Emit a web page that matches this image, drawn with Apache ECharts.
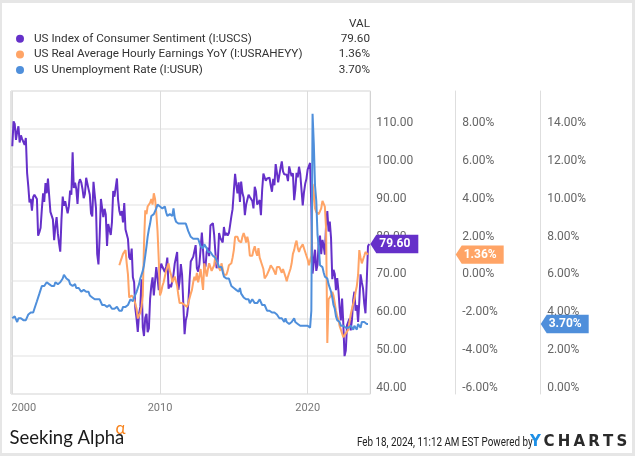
<!DOCTYPE html>
<html><head><meta charset="utf-8">
<script src="https://cdn.jsdelivr.net/npm/echarts@6/dist/echarts.min.js"></script>
<style>
html,body{margin:0;padding:0;background:#fff}
#wrap{position:relative;width:635px;height:456px}
#c{width:635px;height:456px}
#frame{position:absolute;left:0;top:0;width:635px;height:456px;box-sizing:border-box;border:solid #e6e6e6;border-width:3px 3px 3px 2px;pointer-events:none}
</style>
</head><body><div id="wrap"><div id="c"></div><div id="frame"></div></div>
<script>
// ---- DATA (monthly, month-end dates) ----
const seriesNames = ['US Index of Consumer Sentiment (I:USCS)', 'US Real Average Hourly Earnings YoY (I:USRAHEYY)', 'US Unemployment Rate (I:USUR)'];
const sentimentStart = [1999, 12];
const sentiment = [105.4,
 112.0,111.3,107.1,109.2,110.7,106.4,108.3,107.3,106.8,105.8,107.6,98.4,
 94.7,90.6,91.5,88.4,92.0,92.6,92.4,91.5,81.8,82.7,83.9,88.8,
 93.0,90.7,95.7,93.0,96.9,92.4,88.1,87.6,86.1,80.6,84.2,86.7,
 82.4,79.9,77.6,86.0,92.1,89.7,90.9,89.3,87.7,89.6,93.7,92.6,
 103.8,94.4,95.8,94.2,90.2,95.6,96.7,95.9,94.2,91.7,92.8,97.1,
 95.5,94.1,92.6,87.7,86.9,96.0,96.5,89.1,76.9,74.2,81.6,91.5,
 91.2,86.7,88.9,87.4,79.1,84.9,84.7,82.0,85.4,93.6,92.1,91.7,
 96.9,91.3,88.4,87.1,88.3,85.3,90.4,83.4,83.4,80.9,76.1,75.5,
 78.4,70.8,69.5,62.6,59.8,56.4,61.2,63.0,70.3,57.6,55.3,60.1,
 61.2,56.3,57.3,65.1,68.7,70.8,66.0,65.7,73.5,70.6,67.4,72.5,
 74.4,73.6,73.6,72.2,73.6,76.0,67.8,68.9,68.2,67.7,71.6,74.5,
 74.2,77.5,67.5,69.8,74.3,71.5,63.7,55.8,59.5,60.8,63.7,69.9,
 75.0,75.3,76.2,76.4,79.3,73.2,72.3,74.3,78.3,82.6,82.7,72.9,
 73.8,77.6,78.6,76.4,84.5,84.1,85.1,82.1,77.5,73.2,75.1,82.5,
 81.2,81.6,80.0,84.1,81.9,82.5,81.8,82.5,84.6,86.9,88.8,93.6,
 98.1,95.4,93.0,95.9,90.7,96.1,93.1,91.9,87.2,90.0,91.3,92.6,
 92.0,91.7,91.0,89.0,94.7,93.5,90.0,89.8,91.2,87.2,93.8,98.2,
 98.5,96.3,96.9,97.0,97.1,95.1,93.4,96.8,95.1,100.7,98.5,95.9,
 95.7,99.7,101.4,98.8,98.0,98.2,97.9,96.2,100.1,98.6,97.5,98.3,
 91.2,93.8,98.4,97.2,100.0,98.2,98.4,89.8,93.2,95.5,96.8,99.3,
 99.8,101.0,89.1,71.8,72.3,78.1,72.5,74.1,80.4,81.8,76.9,80.7,
 79.0,76.8,84.9,88.3,82.9,85.5,81.2,70.3,72.8,71.7,67.4,70.6,
 67.2,62.8,59.4,65.2,58.4,50.0,51.5,58.2,58.6,59.9,56.8,59.7,
 64.9,67.0,62.0,63.5,59.0,64.4,71.6,69.5,67.9,63.8,61.3,69.7,
 79.0,79.6];
const earningsStart = [2007, 3];
const earnings = [0.8,1.0,1.2,1.4,1.5,1.6,0.9,0.3,-0.9,-0.9,
 -0.8,-0.9,-1.0,-1.0,-1.5,-2.0,-2.1,-1.7,-1.4,-0.8,1.9,3.7,
 3.5,3.9,3.8,4.1,4.3,4.0,4.6,4.3,3.6,2.6,1.1,-0.8,
 -0.6,-0.3,-0.1,0.2,0.5,0.7,0.9,0.5,0.3,-0.1,0.0,0.2,
 0.2,-0.3,-0.8,-1.2,-1.3,-1.2,-1.3,-1.3,-1.4,-1.4,-1.2,-1.2,
 -0.7,-0.5,-0.1,0.2,0.0,0.4,-0.1,0.2,0.6,0.6,-0.5,0.9,
 0.9,0.2,0.6,0.9,0.8,0.5,0.4,0.8,1.3,1.0,0.8,0.7,
 0.5,0.9,0.6,0.3,0.2,0.3,0.5,0.8,0.7,0.9,1.2,1.6,
 2.3,2.2,2.3,2.1,2.2,2.0,2.3,2.5,2.3,2.0,2.3,2.0,
 1.3,1.4,1.3,1.6,1.8,1.5,1.3,1.7,1.2,1.0,1.1,0.6,
 0.1,0.1,0.3,0.3,0.6,0.8,0.9,0.6,0.5,0.3,0.7,0.6,
 0.7,0.6,0.4,0.6,0.5,0.2,-0.05,0.2,0.4,0.6,0.9,1.4,
 1.6,1.9,2.1,1.7,1.5,1.7,1.6,1.9,1.8,1.5,1.3,1.1,
 0.8,0.9,1.3,5.1,4.6,3.8,3.6,3.6,3.5,3.6,3.8,4.2,
 4.1,3.9,2.7,-3.3,-1.0,-0.9,-0.8,-0.6,-0.8,-1.2,-1.6,-1.9,
 -2.1,-2.4,-2.6,-2.7,-3.0,-3.1,-2.8,-2.7,-2.6,-2.2,-1.8,-1.5,
 -1.4,-1.0,-0.6,-0.3,0.3,1.6,1.2,0.9,1.0,1.3,1.5,1.6,
 1.36];
const unemploymentStart = [1999, 12];
const unemployment = [4.0,
 4.0,4.1,4.0,3.8,4.0,4.0,4.0,4.1,3.9,3.9,3.9,3.9,
 4.2,4.2,4.3,4.4,4.3,4.5,4.6,4.9,5.0,5.3,5.5,5.7,
 5.7,5.7,5.7,5.9,5.8,5.8,5.8,5.7,5.7,5.7,5.9,6.0,
 5.8,5.9,5.9,6.0,6.1,6.3,6.2,6.1,6.1,6.0,5.8,5.7,
 5.7,5.6,5.8,5.6,5.6,5.6,5.5,5.4,5.4,5.5,5.4,5.4,
 5.3,5.4,5.2,5.2,5.1,5.0,5.0,4.9,5.0,5.0,5.0,4.9,
 4.7,4.8,4.7,4.7,4.6,4.6,4.7,4.7,4.5,4.4,4.5,4.4,
 4.6,4.5,4.4,4.5,4.4,4.6,4.7,4.6,4.7,4.7,4.7,5.0,
 5.0,4.9,5.1,5.0,5.4,5.6,5.8,6.1,6.1,6.5,6.8,7.3,
 7.8,8.3,8.7,9.0,9.4,9.5,9.5,9.6,9.8,10.0,9.9,9.9,
 9.8,9.8,9.9,9.9,9.6,9.4,9.4,9.5,9.5,9.4,9.8,9.3,
 9.1,9.0,9.0,9.1,9.0,9.1,9.0,9.0,9.0,8.8,8.6,8.5,
 8.3,8.3,8.2,8.2,8.2,8.2,8.2,8.1,7.8,7.8,7.7,7.9,
 8.0,7.7,7.5,7.6,7.5,7.5,7.3,7.2,7.2,7.2,6.9,6.7,
 6.6,6.7,6.7,6.2,6.3,6.1,6.2,6.1,5.9,5.7,5.8,5.6,
 5.7,5.5,5.4,5.4,5.6,5.3,5.2,5.1,5.0,5.0,5.1,5.0,
 4.8,4.9,5.0,5.1,4.8,4.9,4.8,4.9,5.0,4.9,4.7,4.7,
 4.7,4.6,4.4,4.4,4.4,4.3,4.3,4.4,4.3,4.2,4.2,4.1,
 4.0,4.1,4.0,4.0,3.8,4.0,3.8,3.8,3.7,3.8,3.8,3.9,
 4.0,3.8,3.8,3.7,3.6,3.6,3.7,3.6,3.5,3.6,3.6,3.6,
 3.5,3.5,4.4,14.8,13.2,11.0,10.2,8.4,7.8,6.8,6.7,6.7,
 6.4,6.2,6.1,6.1,5.8,5.9,5.4,5.1,4.7,4.5,4.1,3.9,
 4.0,3.8,3.6,3.7,3.6,3.6,3.5,3.6,3.5,3.6,3.6,3.5,
 3.4,3.6,3.5,3.4,3.7,3.6,3.5,3.8,3.8,3.8,3.7,3.7,
 3.7];
const xTickYears = [2000, 2010, 2020];
const xRange = ['1999-11-29', '2024-03-28'];
const leftAxis = {min: 40, max: 120, interval: 10};
const midAxis = {min: -6, max: 10, interval: 2};
const rightAxis = {min: 0, max: 16, interval: 2};
const colors = ['#6530c9', '#ffa466', '#4f8fdb'];
const footerDate = 'Feb 18, 2024, 11:12 AM EST Powered by';

// ---- build ----
function monthEnd(y, m) { return Date.UTC(y, m, 0); } // m is 1-based -> last day of month m
function pairs(start, vals) {
  return vals.map((v, i) => [monthEnd(start[0], start[1] + i), v]);
}
const lastVals = [
  sentiment[sentiment.length - 1].toFixed(2),
  earnings[earnings.length - 1].toFixed(2) + '%',
  unemployment[unemployment.length - 1].toFixed(2) + '%'
];
const xTickValues = xTickYears.map(y => Date.UTC(y, 0, 1));
const FONT = 'Roboto';
const LEG_FS = 11.7, LEG_LH = 15.65;
const axisLabelBase = {color: '#666', fontSize: 12, fontFamily: FONT, verticalAlign: 'bottom', showMaxLabel: false, showMinLabel: true};
const AX_OFF = [0, 85.4, 170.4];

const chart = echarts.init(document.getElementById('c'), null, {renderer: 'canvas'});
const option = {
  animation: false,
  backgroundColor: '#fff',
  color: colors,
  title: {text: 'VAL', right: 265, top: 17.5, padding: 0,
    textStyle: {fontSize: LEG_FS, lineHeight: 13, fontWeight: 'normal', color: '#333', fontFamily: FONT}},
  legend: {
    orient: 'vertical', left: 16, top: 30.9, padding: 0, itemGap: 0,
    icon: 'circle', itemWidth: 8, itemHeight: 8, selectedMode: false,
    data: seriesNames,
    formatter: name => '{n|' + name + '}{v|' + lastVals[seriesNames.indexOf(name)] + '}',
    textStyle: {
      fontFamily: FONT, fontSize: LEG_FS, lineHeight: LEG_LH, height: LEG_LH, color: '#333',
      rich: {
        n: {width: 291, height: LEG_LH, padding: [0, 0, 0, 5], fontSize: LEG_FS, lineHeight: LEG_LH, color: '#333', fontFamily: FONT},
        v: {width: 45, height: LEG_LH, align: 'right', fontSize: LEG_FS, lineHeight: LEG_LH, color: '#333', fontFamily: FONT}
      }
    }
  },
  grid: {left: 11, right: 264.7, top: 91, bottom: 62, show: true, borderColor: '#c8c8c8', borderWidth: 1,
    containLabel: false},
  xAxis: {
    type: 'value', min: Date.parse(xRange[0]), max: Date.parse(xRange[1]),
    axisLine: {show: false},
    axisTick: {show: false, customValues: xTickValues},
    axisLabel: {
      customValues: xTickValues,
      formatter: v => { const y = new Date(v).getUTCFullYear(); return y === xTickYears[0] ? '{s|' + y + '}' : String(y); },
      margin: 9, color: '#777', fontSize: 11, fontFamily: FONT,
      rich: {s: {padding: [0, 0, 0, 23], color: '#777', fontSize: 11, fontFamily: FONT}}
    },
    splitLine: {show: true, lineStyle: {color: '#dcdcdc', width: 1}}
  },
  yAxis: [
    Object.assign({type: 'value', position: 'right', offset: AX_OFF[0],
      axisLine: {show: false}, axisTick: {show: false},
      splitLine: {show: true, lineStyle: {color: '#ebebeb', width: 1.5}},
      axisLabel: Object.assign({}, axisLabelBase, {margin: 6, formatter: v => v.toFixed(2)})}, leftAxis),
    Object.assign({type: 'value', position: 'right', offset: AX_OFF[1],
      axisLine: {show: true, lineStyle: {color: '#dedede', width: 1}}, axisTick: {show: false},
      splitLine: {show: false},
      axisLabel: Object.assign({}, axisLabelBase, {margin: 6.5, formatter: v => v.toFixed(2) + '%'})}, midAxis),
    Object.assign({type: 'value', position: 'right', offset: AX_OFF[2],
      axisLine: {show: true, lineStyle: {color: '#dedede', width: 1}}, axisTick: {show: false},
      splitLine: {show: false},
      axisLabel: Object.assign({}, axisLabelBase, {margin: 6.5, formatter: v => v.toFixed(2) + '%'})}, rightAxis)
  ],
  series: [
    {name: seriesNames[0], type: 'line', yAxisIndex: 0, showSymbol: false, data: pairs(sentimentStart, sentiment),
      lineStyle: {width: 2, color: colors[0]}, itemStyle: {color: colors[0]}, z: 2},
    {name: seriesNames[1], type: 'line', yAxisIndex: 1, showSymbol: false, data: pairs(earningsStart, earnings),
      lineStyle: {width: 2, color: colors[1]}, itemStyle: {color: colors[1]}, z: 3},
    {name: seriesNames[2], type: 'line', yAxisIndex: 2, showSymbol: false, data: pairs(unemploymentStart, unemployment),
      lineStyle: {width: 2, color: colors[2]}, itemStyle: {color: colors[2]}, z: 4}
  ]
};
chart.setOption(option);

// value tags positioned through the library's scales
const xEdge = chart.convertToPixel({xAxisIndex: 0}, Date.parse(xRange[1]));
const lastRaw = [sentiment[sentiment.length - 1], earnings[earnings.length - 1], unemployment[unemployment.length - 1]];
const graphics = [];
lastRaw.forEach((v, i) => {
  const y = chart.convertToPixel({yAxisIndex: i}, v);
  const x = xEdge + AX_OFF[i];
  const w = 48, h = 9.2;
  graphics.push({type: 'polygon', z: 100,
    shape: {points: [[x, y], [x + 6, y - h], [x + w, y - h], [x + w, y + h], [x + 6, y + h]]},
    style: {fill: colors[i]}});
  graphics.push({type: 'text', z: 101, x: x + 24.5, y: y,
    style: {text: lastVals[i], fill: '#fff', font: 'bold 12px ' + FONT, textAlign: 'center', textVerticalAlign: 'middle'}});
});
// footer
graphics.push({type: 'text', x: 9.5, y: 438.5, style: {text: 'Seeking Alpha', fill: '#1a1a1a', font: '18.5px Lato', textAlign: 'left', textVerticalAlign: 'middle'}});
graphics.push({type: 'text', x: 115.5, y: 428.5, style: {text: 'α', fill: '#f7841f', font: '17px Lato', textAlign: 'left', textVerticalAlign: 'middle'}});
graphics.push({type: 'text', x: 357, y: 443, scaleX: 0.82, style: {text: footerDate, fill: '#222', font: '12px ' + FONT, textAlign: 'left', textVerticalAlign: 'middle'}});
graphics.push({type: 'text', x: 530, y: 442, style: {text: 'Y', fill: '#1e90e6', font: 'bold 15px "DejaVu Sans"', textAlign: 'left', textVerticalAlign: 'middle'}});
graphics.push({type: 'text', x: 542, y: 442, style: {text: '{a|C}{a|H}{a|A}{a|R}{a|T}{a|S}', textAlign: 'left', textVerticalAlign: 'middle',
  rich: {a: {fill: '#2a2a2a', color: '#2a2a2a', fontWeight: 'bold', fontSize: 15, fontFamily: 'DejaVu Sans', padding: [0, 1.6, 0, 1.6]}}}});
chart.setOption({graphic: graphics});
</script>
</body></html>
